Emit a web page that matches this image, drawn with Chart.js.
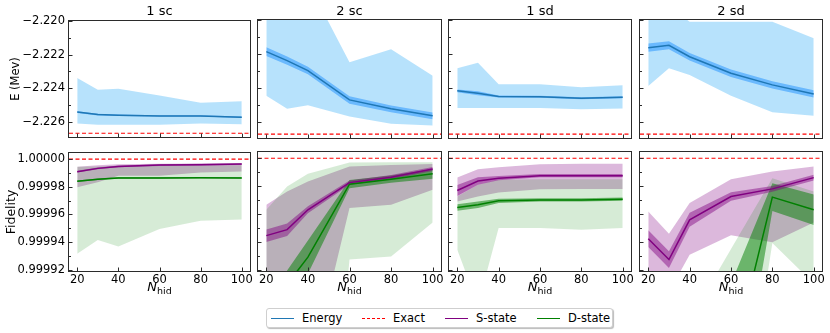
<!DOCTYPE html>
<html>
<head>
<meta charset="utf-8">
<script src="https://cdn.jsdelivr.net/npm/chart.js@4.4.1/dist/chart.umd.min.js"></script>
<style>
  body { margin: 0; background: #fff; }
  #fig { position: relative; width: 830px; height: 333px; font-family: "DejaVu Sans", sans-serif; color: #000; overflow: hidden; }
  #fig canvas { position: absolute; }
  .ttl { position: absolute; top: 3px; font-size: 13px; text-align: center; }
  .xl { position: absolute; top: 279px; font-size: 13px; text-align: center; }
  .xl sub { font-size: 9.5px; font-style: normal; vertical-align: -3px; }
  .legend { position: absolute; left: 266px; top: 308px; width: 345px; height: 18px; border: 1px solid #cfcfcf; border-radius: 3px;
            box-shadow: 1px 1px 1px #bbb; font-size: 11.5px; background: #fff; }
  .legend .it { position: absolute; top: 0; height: 18px; display: flex; align-items: center; white-space: nowrap; }
  .legend .sw { width: 23px; height: 0; margin-right: 8px; }
</style>
</head>
<body>
<div id="fig"></div>
<script>
// x values and ticks
const N_HID = [20, 30, 40, 60, 80, 100];
const X_TICKS = [20, 40, 60, 80, 100];
const X_MIN = 16, X_MAX = 104;
const TITLES = ['1 sc', '2 sc', '1 sd', '2 sd'];

// energy axis
const E_TICKS = [-2.226, -2.224, -2.222, -2.220];
const E_MINOR = [-2.225, -2.223, -2.221];
const E_MIN = -2.22691, E_MAX = -2.2200;
const E_EXACT = -2.22668;

// fidelity axis
const F_TICKS = [0.99992, 0.99994, 0.99996, 0.99998, 1.0];
const F_MINOR = [0.99993, 0.99995, 0.99997, 0.99999];
const F_MIN = 0.999919, F_MAX = 1.0000045;
const F_EXACT = 1.0;

// energy: mean, error of mean, spread band
const E_1SC_MEAN = [-2.22542, -2.22557, -2.22561, -2.22565, -2.22565, -2.22573];
const E_1SC_ERR = [0.00005, 0.00005, 0.00004, 0.00004, 0.00004, 0.00004];
const E_1SC_LO = [-2.22610, -2.22618, -2.22618, -2.22618, -2.22610, -2.22614];
const E_1SC_HI = [-2.22339, -2.22409, -2.22403, -2.22443, -2.22487, -2.22478];

const E_2SC_MEAN = [-2.22185, -2.22238, -2.22296, -2.22468, -2.22520, -2.22561];
const E_2SC_ERR = [0.00026, 0.00024, 0.00022, 0.00022, 0.00020, 0.00020];
const E_2SC_LO = [-2.22443, -2.22519, -2.22499, -2.22565, -2.22608, -2.22618];
const E_2SC_HI = [-2.2185, -2.2180, -2.2178, -2.22248, -2.22171, -2.22327];

const E_1SD_MEAN = [-2.22415, -2.22429, -2.22448, -2.22450, -2.22458, -2.22452];
const E_1SD_ERR = [0.00008, 0.00012, 0.00006, 0.00006, 0.00006, 0.00006];
const E_1SD_LO = [-2.22516, -2.22516, -2.22516, -2.22516, -2.22522, -2.22518];
const E_1SD_HI = [-2.22283, -2.22250, -2.22376, -2.22376, -2.22394, -2.22382];

const E_2SD_MEAN = [-2.22162, -2.22148, -2.22215, -2.22312, -2.22380, -2.22433];
const E_2SD_ERR = [0.00024, 0.00024, 0.00022, 0.00022, 0.00021, 0.00021];
const E_2SD_LO = [-2.22386, -2.22283, -2.22322, -2.22443, -2.22540, -2.22561];
const E_2SD_HI = [-2.2190, -2.2192, -2.2201, -2.2201, -2.2201, -2.22107];

// fidelity, S-state and D-state
const F_1SC_S_MEAN = [0.9999909, 0.9999933, 0.9999947, 0.9999957, 0.9999960, 0.9999964];
const F_1SC_S_ERR = [6e-7, 6e-7, 6e-7, 6e-7, 6e-7, 6e-7];
const F_1SC_S_LO = [0.9999797, 0.9999832, 0.9999880, 0.9999880, 0.9999904, 0.9999911];
const F_1SC_S_HI = [0.9999945, 0.9999955, 0.9999962, 0.9999967, 0.9999969, 0.9999969];
const F_1SC_D_MEAN = [0.9999840, 0.9999854, 0.9999864, 0.9999864, 0.9999865, 0.9999864];
const F_1SC_D_ERR = [6e-7, 6e-7, 6e-7, 6e-7, 6e-7, 6e-7];
const F_1SC_D_LO = [0.9999315, 0.9999415, 0.9999367, 0.9999494, 0.9999553, 0.9999563];
const F_1SC_D_HI = [0.9999945, 0.9999947, 0.9999952, 0.9999955, 0.9999955, 0.9999955];

const F_2SC_S_MEAN = [0.9999444, 0.9999487, 0.9999630, 0.9999825, 0.9999864, 0.9999923];
const F_2SC_S_ERR = [4.5e-6, 4.5e-6, 2.5e-6, 1.5e-6, 1.5e-6, 1.5e-6];
const F_2SC_S_LO = [0.99985, 0.99985, 0.99984, 0.9999642, 0.9999666, 0.9999773];
const F_2SC_S_HI = [0.9999666, 0.9999761, 0.9999833, 0.9999940, 0.9999952, 0.9999959];
const F_2SC_D_MEAN = [0.99988, 0.9999094, 0.9999290, 0.9999814, 0.9999850, 0.9999888];
const F_2SC_D_ERR = [1e-5, 1e-5, 1.2e-5, 3e-6, 2.6e-6, 3.5e-6];
const F_2SC_D_LO = [0.9996, 0.9996, 0.9996, 0.9999272, 0.9999295, 0.9999539];
const F_2SC_D_HI = [0.9999630, 0.9999797, 0.9999888, 0.9999969, 0.9999971, 0.9999971];

const F_1SD_S_MEAN = [0.9999768, 0.9999837, 0.9999857, 0.9999875, 0.9999875, 0.9999875];
const F_1SD_S_ERR = [4e-6, 2.7e-6, 1.5e-6, 1.2e-6, 1.2e-6, 1.2e-6];
const F_1SD_S_LO = [0.9999689, 0.9999725, 0.9999754, 0.9999778, 0.9999780, 0.9999780];
const F_1SD_S_HI = [0.9999861, 0.9999921, 0.9999936, 0.9999957, 0.9999960, 0.9999960];
const F_1SD_D_MEAN = [0.9999646, 0.9999666, 0.9999694, 0.9999701, 0.9999701, 0.9999706];
const F_1SD_D_ERR = [2.4e-6, 2.4e-6, 1.5e-6, 1.2e-6, 1.2e-6, 1.2e-6];
const F_1SD_D_LO = [0.9999343, 0.9998946, 0.9999499, 0.9999499, 0.9999487, 0.9999499];
const F_1SD_D_HI = [0.9999725, 0.9999810, 0.9999845, 0.9999850, 0.9999850, 0.9999850];

const F_2SD_S_MEAN = [0.9999422, 0.9999272, 0.9999558, 0.9999725, 0.9999780, 0.9999861];
const F_2SD_S_ERR = [6e-6, 6e-6, 5e-6, 3e-6, 2e-6, 2e-6];
const F_2SD_S_LO = [0.9999, 0.9999039, 0.9999307, 0.9999446, 0.9999396, 0.9999539];
const F_2SD_S_HI = [0.9999618, 0.9999458, 0.9999678, 0.9999850, 0.9999904, 0.9999940];
const F_2SD_D_MEAN = [0.9996, 0.9997, 0.99978, 0.99985, 0.9999721, 0.9999630];
const F_2SD_D_ERR = [6e-5, 6e-5, 6e-5, 6e-5, 1e-5, 1.1e-5];
const F_2SD_D_LO = [0.9995, 0.9996, 0.9997, 0.999748, 0.9999391, 0.99991];
const F_2SD_D_HI = [0.99983, 0.99985, 0.9998838, 0.9999348, 0.9999857, 0.9999761];

// colours
const BLUE_LIGHT = 'rgba(135,206,250,0.6)';
const BLUE_DARK = 'rgba(30,144,255,0.5)';
const BLUE = '#1f77b4';
const PURPLE_LIGHT = 'rgba(128,0,128,0.28)';
const PURPLE_DARK = 'rgba(128,0,128,0.45)';
const PURPLE = '#800080';
const GREEN_LIGHT = 'rgba(0,128,0,0.16)';
const GREEN_DARK = 'rgba(0,128,0,0.5)';
const GREEN = '#008000';

// plot boxes in page pixels
const PLOT_X = [[69, 250], [258, 441], [449, 631], [640, 822]];
const PLOT_Y = [[20, 138], [152, 271]];

Chart.defaults.font.family = '"DejaVu Sans", sans-serif';
Chart.defaults.color = '#000';

const pts = vals => N_HID.map((x, i) => ({ x, y: vals[i] }));
const plus = (m, e) => m.map((v, i) => v + e[i]);
const minus = (m, e) => m.map((v, i) => v - e[i]);

function band(lo, hi, color, order) {
  const base = { borderColor: 'transparent', borderWidth: 0, pointRadius: 0, order };
  return [
    { ...base, data: pts(lo), fill: false },
    { ...base, data: pts(hi), fill: '-1', backgroundColor: color }
  ];
}
function line(vals, color, order) {
  return { data: pts(vals), borderColor: color, borderWidth: 1.5, pointRadius: 0, fill: false, order };
}
function exact(v) {
  return { data: [{ x: X_MIN, y: v }, { x: X_MAX, y: v }], borderColor: 'red', borderWidth: 1.2,
           borderDash: [4, 2.5], pointRadius: 0, fill: false, order: 0 };
}

// frame and inward ticks like the original figure
const frameTicks = {
  id: 'frameTicks',
  afterDraw(chart, args, opts) {
    const { ctx, chartArea: a, scales: { x, y } } = chart;
    ctx.save();
    ctx.strokeStyle = '#2b2b2b';
    ctx.lineWidth = 1;
    ctx.strokeRect(Math.round(a.left) - 0.5, Math.round(a.top) - 0.5,
                   Math.round(a.right - a.left) + 1, Math.round(a.bottom - a.top) + 1);
    ctx.beginPath();
    X_TICKS.forEach(v => {
      const px = Math.round(x.getPixelForValue(v)) + 0.5;
      ctx.moveTo(px, a.bottom); ctx.lineTo(px, a.bottom - 3.5);
    });
    opts.major.forEach(v => {
      const py = Math.round(y.getPixelForValue(v)) + 0.5;
      ctx.moveTo(a.left, py); ctx.lineTo(a.left + 3.5, py);
    });
    opts.minor.forEach(v => {
      const py = Math.round(y.getPixelForValue(v)) + 0.5;
      ctx.moveTo(a.left, py); ctx.lineTo(a.left + 2, py);
    });
    ctx.stroke();
    ctx.restore();
  }
};

function energySets(mean, err, lo, hi) {
  return [
    ...band(lo, hi, BLUE_LIGHT, 6),
    ...band(minus(mean, err), plus(mean, err), BLUE_DARK, 4),
    line(mean, BLUE, 1),
    exact(E_EXACT)
  ];
}
function fidSets(sm, se, slo, shi, dm, de, dlo, dhi) {
  return [
    ...band(slo, shi, PURPLE_LIGHT, 8),
    ...band(dlo, dhi, GREEN_LIGHT, 7),
    ...band(minus(dm, de), plus(dm, de), GREEN_DARK, 5),
    ...band(minus(sm, se), plus(sm, se), PURPLE_DARK, 4),
    line(dm, GREEN, 2),
    line(sm, PURPLE, 1),
    exact(F_EXACT)
  ];
}

const TOP = [
  energySets(E_1SC_MEAN, E_1SC_ERR, E_1SC_LO, E_1SC_HI),
  energySets(E_2SC_MEAN, E_2SC_ERR, E_2SC_LO, E_2SC_HI),
  energySets(E_1SD_MEAN, E_1SD_ERR, E_1SD_LO, E_1SD_HI),
  energySets(E_2SD_MEAN, E_2SD_ERR, E_2SD_LO, E_2SD_HI)
];
const BOTTOM = [
  fidSets(F_1SC_S_MEAN, F_1SC_S_ERR, F_1SC_S_LO, F_1SC_S_HI, F_1SC_D_MEAN, F_1SC_D_ERR, F_1SC_D_LO, F_1SC_D_HI),
  fidSets(F_2SC_S_MEAN, F_2SC_S_ERR, F_2SC_S_LO, F_2SC_S_HI, F_2SC_D_MEAN, F_2SC_D_ERR, F_2SC_D_LO, F_2SC_D_HI),
  fidSets(F_1SD_S_MEAN, F_1SD_S_ERR, F_1SD_S_LO, F_1SD_S_HI, F_1SD_D_MEAN, F_1SD_D_ERR, F_1SD_D_LO, F_1SD_D_HI),
  fidSets(F_2SD_S_MEAN, F_2SD_S_ERR, F_2SD_S_LO, F_2SD_S_HI, F_2SD_D_MEAN, F_2SD_D_ERR, F_2SD_D_LO, F_2SD_D_HI)
];

const fig = document.getElementById('fig');

function makePanel(col, row, datasets) {
  const padL = col === 0 ? PLOT_X[0][0] : 10;
  const padR = 13, padT = 10, padB = row === 1 ? 16 : 10;
  const [l, r] = PLOT_X[col], [t, b] = PLOT_Y[row];
  const cv = document.createElement('canvas');
  cv.width = r - l + padL + padR;
  cv.height = b - t + padT + padB;
  cv.style.left = (l - padL) + 'px';
  cv.style.top = (t - padT) + 'px';
  cv.style.width = cv.width + 'px';
  cv.style.height = cv.height + 'px';
  fig.appendChild(cv);

  const isE = row === 0;
  const yTicks = isE ? E_TICKS : F_TICKS;
  const tickFont = { size: 11.5 };

  new Chart(cv, {
    type: 'line',
    data: { datasets },
    plugins: [frameTicks],
    options: {
      responsive: false,
      animation: false,
      devicePixelRatio: 1,
      layout: { padding: { left: 0, right: padR, top: padT, bottom: 0 } },
      plugins: {
        legend: { display: false },
        tooltip: { enabled: false },
        frameTicks: { major: yTicks, minor: isE ? E_MINOR : F_MINOR }
      },
      scales: {
        x: {
          type: 'linear', min: X_MIN, max: X_MAX,
          grid: { display: false, drawTicks: false }, border: { display: false },
          ticks: { display: row === 1, font: tickFont, padding: 2, maxRotation: 0, autoSkip: false },
          afterBuildTicks: s => { s.ticks = X_TICKS.map(v => ({ value: v })); },
          afterFit: s => { s.height = padB; }
        },
        y: {
          min: isE ? E_MIN : F_MIN, max: isE ? E_MAX : F_MAX,
          grid: { display: false, drawTicks: false }, border: { display: false },
          ticks: {
            display: col === 0, font: tickFont, padding: 4,
            callback: v => isE ? '\u2212' + Math.abs(v).toFixed(3) : v.toFixed(5)
          },
          title: {
            display: col === 0, text: isE ? 'E (Mev)' : 'Fidelity', font: { size: isE ? 11.5 : 12.5 },
            padding: { top: isE ? 9 : 4, bottom: 0 }
          },
          afterBuildTicks: s => { s.ticks = yTicks.map(v => ({ value: v })); },
          afterFit: s => { s.width = padL; }
        }
      }
    }
  });
}

TOP.forEach((ds, c) => makePanel(c, 0, ds));
BOTTOM.forEach((ds, c) => makePanel(c, 1, ds));

// column titles and x-axis labels
PLOT_X.forEach(([l, r], c) => {
  const t = document.createElement('div');
  t.className = 'ttl';
  t.style.left = l + 'px';
  t.style.width = (r - l) + 'px';
  t.textContent = TITLES[c];
  fig.appendChild(t);

  const xl = document.createElement('div');
  xl.className = 'xl';
  xl.style.left = l + 'px';
  xl.style.width = (r - l) + 'px';
  xl.innerHTML = '<i>N</i><sub>hid</sub>';
  fig.appendChild(xl);
});

// legend
const LEGEND = [
  { label: 'Energy', color: BLUE, dash: false, left: 4 },
  { label: 'Exact', color: 'red', dash: true, left: 95 },
  { label: 'S-state', color: PURPLE, dash: false, left: 178 },
  { label: 'D-state', color: GREEN, dash: false, left: 270 }
];
const lg = document.createElement('div');
lg.className = 'legend';
LEGEND.forEach(item => {
  const it = document.createElement('div');
  it.className = 'it';
  it.style.left = item.left + 'px';
  const sw = document.createElement('span');
  sw.className = 'sw';
  sw.style.borderTop = '1.5px ' + (item.dash ? 'dashed ' : 'solid ') + item.color;
  const tx = document.createElement('span');
  tx.textContent = item.label;
  it.appendChild(sw);
  it.appendChild(tx);
  lg.appendChild(it);
});
fig.appendChild(lg);
</script>
</body>
</html>
